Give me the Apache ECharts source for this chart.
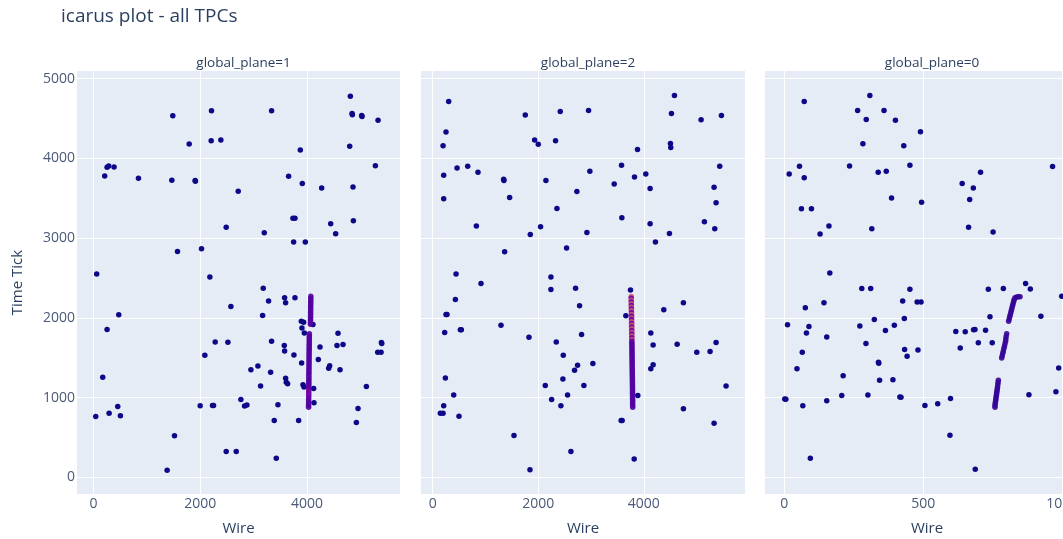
<!DOCTYPE html>
<html>
<head>
<meta charset="utf-8">
<script src="https://cdn.jsdelivr.net/npm/echarts@6/dist/echarts.min.js"></script>
<style>
html,body{margin:0;padding:0;background:#fff;}
#chart{width:1063px;height:539px;}
</style>
</head>
<body>
<div id="chart"></div>
<script>
// ---------- data ----------
const panelTitles = ['global_plane=1', 'global_plane=2', 'global_plane=0'];
const xTicks1 = [0, 2000, 4000];
const xTicks2 = [0, 2000, 4000];
const xTicks3 = [0, 500, 1000];
const yTicks = [0, 1000, 2000, 3000, 4000, 5000];

// [wire, time]
const hits1 = [
[1487,4533],[2212,4596],[3337,4596],[4812,4779],[4844,4562],[4850,4546],[5025,4537],[5031,4525],[5331,4479],[1794,4179],[2206,4221],[2387,4229],[3875,4104],[4800,4150],[5281,3908],[212,3779],[256,3887],[287,3904],[387,3892],[844,3750],[1469,3725],[1906,3721],[1910,3712],[2712,3587],[3656,3775],[3912,3683],[4275,3629],[4862,3642],[2487,3137],[3200,3067],[3737,3250],[3775,3250],[4444,3179],[4869,3217],[4537,3054],[3750,2950],[3969,2950],[1575,2833],[2025,2867],[62,2550],[2181,2512],[3181,2371],
[3581,2252],[3775,2252],[3281,2210],[3600,2189],[2575,2143],[3169,2029],[475,2038],[256,1853],[3894,1958],[3937,1945],[3906,1874],[3950,1811],[4112,1916],[4244,1635],[4581,1807],[4562,1652],[4675,1665],[5394,1690],[5400,1678],[5325,1568],[5387,1568],[2087,1530],[2281,1698],[2519,1694],[3337,1706],[3575,1652],[3581,1585],[3756,1535],[3900,1434],[4212,1476],[4425,1400],[4406,1367],[4619,1350],[2950,1350],[3081,1396],[3319,1317],[3600,1241],[3612,1191],[3637,1174],[3131,1145],[3925,1161],[3944,1132],[4125,1115],[5112,1140],[175,1254],[2762,977],[2831,893],[2875,906],[2000,897],[2231,902],[2250,900],[3456,910],[4131,935],[4956,864],[4925,688],[44,763],[294,805],[456,889],[506,772],[3387,713],[3844,713],[1519,520],[2487,323],[2675,323],[3425,239],[1381,88]
];
// [wire, time, charge]
const track1 = [
[4072,2270,0.16],[4070,2245,0.14],[4071,2220,0.16],[4069,2195,0.14],[4070,2170,0.16],[4068,2145,0.14],[4069,2120,0.14],[4068,2095,0.16],[4067,2070,0.14],[4068,2045,0.14],[4066,2020,0.16],[4067,1995,0.14],[4065,1970,0.14],[4066,1945,0.16],[4064,1920,0.14],
[4045,1800,0.14],[4044,1775,0.16],[4043,1750,0.14],[4044,1725,0.14],[4042,1700,0.16],[4043,1675,0.14],[4041,1650,0.14],[4042,1625,0.16],[4040,1600,0.14],[4041,1575,0.14],[4040,1550,0.16],[4039,1525,0.14],[4040,1500,0.14],[4038,1475,0.16],[4039,1450,0.14],[4038,1425,0.14],[4037,1400,0.16],[4038,1375,0.14],[4036,1350,0.14],[4037,1325,0.16],[4036,1300,0.14],[4035,1275,0.14],[4036,1250,0.16],[4035,1225,0.14],[4034,1200,0.14],[4035,1175,0.16],[4034,1150,0.14],[4033,1125,0.18],[4034,1100,0.2],[4033,1075,0.24],[4032,1050,0.22],[4033,1025,0.24],[4032,1000,0.2],[4031,975,0.18],[4032,950,0.16],[4031,925,0.14],[4030,900,0.14],[4030,880,0.14]
];

const hits2 = [
[303,4712],[252,4329],[196,4158],[1754,4542],[2417,4588],[2953,4600],[4581,4787],[4524,4562],[5086,4483],[5471,4537],[1931,4229],[2000,4175],[2328,4221],[3881,4112],[4505,4187],[4511,4137],[208,3787],[461,3879],[663,3900],[858,3825],[1344,3737],[1350,3721],[2145,3721],[2732,3583],[2978,3837],[3578,3912],[3439,3679],[3824,3767],[4038,3804],[4120,3621],[5439,3900],[5332,3637],[5370,3442],[208,3492],[1458,3508],[2354,3371],[3584,3254],[4120,3179],[5149,3204],[5345,3117],[827,3150],[1849,3046],[2044,3142],[2922,3071],[4486,3058],[4221,2950],[2537,2875],[1363,2829],[442,2550],[915,2429],[2240,2512],[2240,2354],[2707,2371],[3748,2350],[430,2229],
[4751,2189],[4379,2101],[2783,2151],[3660,2025],[252,2042],[271,2042],[227,1816],[524,1849],[543,1849],[1294,1908],[1824,1757],[2341,1698],[2821,1790],[2474,1530],[2745,1405],[2688,1342],[3035,1426],[4133,1811],[4177,1660],[4632,1669],[5004,1568],[5256,1577],[5370,1690],[4133,1363],[4177,1413],[240,1245],[2467,1233],[2133,1153],[2865,1153],[398,1031],[2253,977],[2556,1031],[2429,897],[208,897],[145,805],[196,805],[498,767],[3887,1027],[5559,1145],[4751,860],[5332,679],[3571,713],[3590,713],[1540,524],[2619,323],[3818,231],[1843,96]
];
const track2 = [
[3762,2268,0.55],[3762,2245,0.2],[3763,2222,0.55],[3763,2200,0.2],[3764,2178,0.55],[3764,2155,0.2],[3765,2132,0.55],[3765,2110,0.2],[3766,2088,0.55],[3766,2065,0.2],[3767,2042,0.55],[3767,2020,0.2],[3768,1998,0.5],[3768,1975,0.2],[3769,1952,0.55],[3769,1930,0.2],[3770,1908,0.55],[3770,1885,0.2],[3771,1862,0.55],[3771,1840,0.2],[3772,1818,0.5],[3772,1795,0.2],[3773,1772,0.55],[3773,1750,0.2],[3774,1728,0.5],[3774,1705,0.2],
[3775,1680,0.16],[3776,1655,0.14],[3775,1630,0.16],[3777,1605,0.14],[3776,1580,0.16],[3778,1555,0.14],[3777,1530,0.16],[3779,1505,0.14],[3778,1480,0.14],[3780,1455,0.16],[3779,1430,0.14],[3781,1405,0.14],[3780,1380,0.16],[3782,1355,0.14],[3781,1330,0.14],[3783,1305,0.16],[3782,1280,0.14],[3784,1255,0.14],[3783,1230,0.16],[3785,1205,0.14],[3784,1180,0.14],[3786,1155,0.16],[3785,1130,0.14],[3786,1105,0.14],[3787,1080,0.16],[3786,1055,0.14],[3788,1030,0.14],[3787,1005,0.16],[3788,980,0.14],[3789,955,0.14],[3788,930,0.16],[3789,905,0.14],[3790,880,0.14]
];

const hits3 = [
[72,4712],[308,4787],[264,4600],[359,4600],[295,4487],[400,4479],[490,4333],[283,4183],[430,4158],[55,3900],[18,3804],[72,3758],[235,3904],[338,3825],[367,3837],[452,3912],[706,3825],[965,3896],[640,3683],[680,3629],[667,3483],[386,3504],[494,3450],[62,3367],[98,3367],[161,3150],[129,3050],[315,3117],[663,3137],[751,3075],[164,2562],[279,2367],[311,2367],[452,2358],[734,2358],[788,2367],[868,2429],[885,2362],[998,2271],
[76,2126],[143,2189],[426,2210],[478,2197],[492,2197],[432,1992],[324,1979],[396,1908],[272,1899],[12,1912],[89,1891],[80,1811],[153,1761],[364,1841],[617,1828],[651,1824],[681,1849],[686,1855],[724,1845],[740,2013],[923,2021],[294,1677],[433,1602],[442,1518],[481,1597],[633,1623],[698,1686],[748,1686],[65,1568],[339,1442],[340,1430],[46,1363],[212,1275],[343,1216],[391,1224],[2,981],[6,978],[67,897],[153,960],[207,1027],[301,1031],[416,1006],[420,1003],[506,901],[552,922],[598,989],[596,528],[687,101],[94,239],[880,1036],[977,1073],[987,1371]
];
const track3 = [
[758,880,0.08],[758,905,0.08],[759,930,0.08],[760,955,0.08],[761,980,0.08],[762,1005,0.08],[763,1030,0.08],[764,1055,0.08],[765,1080,0.08],[766,1105,0.08],[767,1130,0.08],[768,1160,0.08],[769,1190,0.08],[770,1216,0.08],
[782,1497,0.08],[784,1525,0.08],[786,1555,0.08],[788,1585,0.08],[790,1615,0.08],[792,1645,0.08],[794,1675,0.08],[796,1705,0.08],[797,1735,0.08],[798,1765,0.08],[800,1800,0.08],
[807,1958,0.08],[809,1985,0.08],[811,2012,0.08],[813,2040,0.08],[815,2068,0.08],[817,2095,0.08],[819,2122,0.08],[821,2150,0.08],[823,2178,0.08],[825,2205,0.08],[827,2230,0.08],[830,2252,0.08],[836,2262,0.08],[842,2265,0.08],[848,2264,0.08]
];

// ---------- chart ----------
const FONT = '"Open Sans", "DejaVu Sans", sans-serif';
const TXT = '#2a3f5f';
const TICK = '#4a5a78';
const BG = '#e5ecf6';
const plasma = ['#0d0887','#46039f','#7201a8','#9c179e','#bd3786','#d8576b','#ed7953','#fb9f3a','#fdca26','#f0f921'];

const grids = [
  {left: 77, top: 71, width: 323, height: 423},
  {left: 421, top: 71, width: 324, height: 423},
  {left: 765, top: 71, width: 324, height: 423}
];
const xRanges = [[-307, 5742], [-222, 5918], [-69, 1096]];
const xTickSets = [xTicks1, xTicks2, xTicks3];

function xAxis(i) {
  return {
    type: 'value', gridIndex: i, min: xRanges[i][0], max: xRanges[i][1],
    name: 'Wire', nameLocation: 'middle', nameGap: 27,
    nameTextStyle: {fontFamily: FONT, fontSize: 15, color: TXT},
    axisLine: {show: false},
    axisTick: {show: false, customValues: xTickSets[i]},
    axisLabel: {customValues: xTickSets[i], fontFamily: FONT, fontSize: 14, color: TICK, margin: 3,
      alignMinLabel: 'center', alignMaxLabel: 'center', formatter: v => String(v)},
    splitLine: {show: true, lineStyle: {color: '#ffffff', width: 1}}
  };
}
function yAxis(i) {
  const a = {
    type: 'value', gridIndex: i, min: -209, max: 5095,
    axisLine: {show: false},
    axisTick: {show: false, customValues: yTicks},
    axisLabel: {show: i === 0, customValues: yTicks, fontFamily: FONT, fontSize: 14, color: TICK, margin: 2, formatter: v => String(v)},
    splitLine: {show: true, lineStyle: {color: '#ffffff', width: 1}}
  };
  if (i === 0) {
    a.name = 'Time Tick';
    a.nameLocation = 'middle';
    a.nameGap = 52;
    a.nameTextStyle = {fontFamily: FONT, fontSize: 15, color: TXT};
  }
  return a;
}

const hitSets = [hits1, hits2, hits3];
const trackSets = [track1, track2, track3];
const series = [];
for (let i = 0; i < 3; i++) {
  series.push({
    type: 'scatter', xAxisIndex: i, yAxisIndex: i, data: hitSets[i],
    symbolSize: 5.5, itemStyle: {color: '#0d0887', opacity: 1}, silent: true
  });
  series.push({
    type: 'scatter', xAxisIndex: i, yAxisIndex: i, data: trackSets[i],
    symbolSize: 5.5, itemStyle: {opacity: 0.9}, silent: true
  });
}

const chart = echarts.init(document.getElementById('chart'), null, {renderer: 'canvas'});
chart.setOption({
  animation: false,
  backgroundColor: '#ffffff',
  title: [
    {text: 'icarus plot - all TPCs', left: 56, top: 2, textStyle: {fontFamily: FONT, fontSize: 19, fontWeight: 'normal', color: TXT}},
    {text: panelTitles[0], left: 238.5, top: 51, textAlign: 'center', textStyle: {fontFamily: FONT, fontSize: 13.5, fontWeight: 'normal', color: TXT}},
    {text: panelTitles[1], left: 583, top: 51, textAlign: 'center', textStyle: {fontFamily: FONT, fontSize: 13.5, fontWeight: 'normal', color: TXT}},
    {text: panelTitles[2], left: 927, top: 51, textAlign: 'center', textStyle: {fontFamily: FONT, fontSize: 13.5, fontWeight: 'normal', color: TXT}}
  ],
  grid: grids.map(g => Object.assign({show: true, backgroundColor: BG, borderWidth: 0, containLabel: false, outerBoundsMode: 'none'}, g)),
  xAxis: [xAxis(0), xAxis(1), xAxis(2)],
  yAxis: [yAxis(0), yAxis(1), yAxis(2)],
  visualMap: {
    type: 'continuous', show: false, seriesIndex: [1, 3, 5], dimension: 2,
    min: 0, max: 1, inRange: {color: plasma}
  },
  series: series
});
</script>
</body>
</html>
